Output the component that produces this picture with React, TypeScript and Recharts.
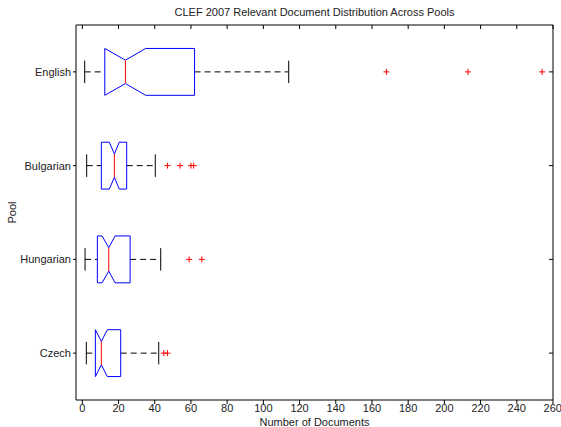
import { ScatterChart, Scatter, XAxis, YAxis } from "recharts";

// pools top to bottom, y position = index + 1
const pools = ["English", "Bulgarian", "Hungarian", "Czech"];
const whiskerLow = [1.3, 2.4, 1.5, 2.2];
const q1 = [12.4, 10.5, 8.3, 7.2];
const notchLow = [12.4, 14.9, 10.9, 7.2];
const median = [23.8, 17.7, 14.6, 10.5];
const notchHigh = [35, 20.4, 18.1, 13.8];
const q3 = [62, 24.5, 26.4, 21.2];
const whiskerHigh = [114, 40.3, 43.3, 42.2];
const outliers = [[168, 213, 254], [47, 54, 60, 61.5], [59, 66], [45, 47]];
const xTicks = [0, 20, 40, 60, 80, 100, 120, 140, 160, 180, 200, 220, 240, 260];
const yTicks = [1, 2, 3, 4];

const HALF_BOX = 0.25;
const HALF_NOTCH = 0.125;
const HALF_CAP = 0.12;

const FONT = "'Liberation Sans', Arial, Helvetica, sans-serif";
const tickStyle = { fill: "#222", fontSize: 11, fontFamily: FONT };

type Pt = { x: number; y: number };

function boxOutline(i: number): Pt[] {
  const y = i + 1;
  return [
    { x: q1[i], y: y - HALF_BOX },
    { x: notchLow[i], y: y - HALF_BOX },
    { x: median[i], y: y - HALF_NOTCH },
    { x: notchHigh[i], y: y - HALF_BOX },
    { x: q3[i], y: y - HALF_BOX },
    { x: q3[i], y: y + HALF_BOX },
    { x: notchHigh[i], y: y + HALF_BOX },
    { x: median[i], y: y + HALF_NOTCH },
    { x: notchLow[i], y: y + HALF_BOX },
    { x: q1[i], y: y + HALF_BOX },
    { x: q1[i], y: y - HALF_BOX },
  ];
}

const NoMark = () => <g />;

const PlusMark = (props: any) => {
  const { cx, cy } = props;
  return (
    <g>
      <line x1={cx - 3} x2={cx + 3} y1={cy} y2={cy} stroke="#ff0000" strokeWidth={1} />
      <line x1={cx} x2={cx} y1={cy - 3} y2={cy + 3} stroke="#ff0000" strokeWidth={1} />
    </g>
  );
};

export default function App() {
  return (
    <div style={{ position: "absolute", left: 0, top: 0, width: 561, height: 427, background: "#fff" }}>
      <div
        style={{
          position: "absolute",
          left: 76,
          width: 477,
          top: 5,
          textAlign: "center",
          fontFamily: FONT,
          fontSize: 11,
          color: "#222",
          lineHeight: "14px",
        }}
      >
        CLEF 2007 Relevant Document Distribution Across Pools
      </div>
      <ScatterChart width={561} height={427} margin={{ top: 25, right: 8, bottom: 0, left: 0 }}>
        <XAxis
          type="number"
          dataKey="x"
          domain={[-3.5, 260]}
          ticks={xTicks}
          allowDataOverflow
          height={27}
          tick={tickStyle}
          tickSize={4}
          tickMargin={0}
          axisLine={{ stroke: "#000" }}
          tickLine={{ stroke: "#000" }}
          label={{ value: "Number of Documents", position: "insideBottom", offset: 1, style: { ...tickStyle } }}
        />
        <XAxis
          xAxisId="top"
          orientation="top"
          type="number"
          dataKey="x"
          domain={[-3.5, 260]}
          ticks={xTicks}
          allowDataOverflow
          mirror
          tickSize={4}
          tickFormatter={() => ""}
          axisLine={{ stroke: "#000" }}
          tickLine={{ stroke: "#000" }}
        />
        <YAxis
          type="number"
          dataKey="y"
          domain={[0.5, 4.5]}
          ticks={yTicks}
          reversed
          allowDataOverflow
          width={76}
          tick={tickStyle}
          tickSize={3}
          tickMargin={2}
          tickFormatter={(v: number) => pools[v - 1] ?? ""}
          axisLine={{ stroke: "#000" }}
          tickLine={{ stroke: "#000" }}
          label={{ value: "Pool", angle: -90, position: "insideLeft", offset: 12, style: { ...tickStyle, textAnchor: "middle" } }}
        />
        <YAxis
          yAxisId="right"
          orientation="right"
          type="number"
          dataKey="y"
          domain={[0.5, 4.5]}
          ticks={yTicks}
          reversed
          allowDataOverflow
          mirror
          tickSize={4}
          tickFormatter={() => ""}
          axisLine={{ stroke: "#000" }}
          tickLine={{ stroke: "#000" }}
        />

        {pools.map((p, i) => (
          <Scatter
            key={`wl-${p}`}
            data={[{ x: whiskerLow[i], y: i + 1 }, { x: q1[i], y: i + 1 }]}
            line={{ stroke: "#000", strokeWidth: 1, strokeDasharray: "6 4" }}
            shape={NoMark}
            isAnimationActive={false}
          />
        ))}
        {pools.map((p, i) => (
          <Scatter
            key={`wh-${p}`}
            data={[{ x: q3[i], y: i + 1 }, { x: whiskerHigh[i], y: i + 1 }]}
            line={{ stroke: "#000", strokeWidth: 1, strokeDasharray: "6 4" }}
            shape={NoMark}
            isAnimationActive={false}
          />
        ))}
        {pools.map((p, i) => (
          <Scatter
            key={`cl-${p}`}
            data={[{ x: whiskerLow[i], y: i + 1 - HALF_CAP }, { x: whiskerLow[i], y: i + 1 + HALF_CAP }]}
            line={{ stroke: "#000", strokeWidth: 1 }}
            shape={NoMark}
            isAnimationActive={false}
          />
        ))}
        {pools.map((p, i) => (
          <Scatter
            key={`ch-${p}`}
            data={[{ x: whiskerHigh[i], y: i + 1 - HALF_CAP }, { x: whiskerHigh[i], y: i + 1 + HALF_CAP }]}
            line={{ stroke: "#000", strokeWidth: 1 }}
            shape={NoMark}
            isAnimationActive={false}
          />
        ))}
        {pools.map((p, i) => (
          <Scatter
            key={`box-${p}`}
            data={boxOutline(i)}
            line={{ stroke: "#0000ff", strokeWidth: 1 }}
            shape={NoMark}
            isAnimationActive={false}
          />
        ))}
        {pools.map((p, i) => (
          <Scatter
            key={`med-${p}`}
            data={[{ x: median[i], y: i + 1 - HALF_NOTCH }, { x: median[i], y: i + 1 + HALF_NOTCH }]}
            line={{ stroke: "#ff0000", strokeWidth: 1 }}
            shape={NoMark}
            isAnimationActive={false}
          />
        ))}
        {pools.map((p, i) => (
          <Scatter
            key={`out-${p}`}
            data={outliers[i].map((v) => ({ x: v, y: i + 1 }))}
            shape={PlusMark}
            isAnimationActive={false}
          />
        ))}
      </ScatterChart>
    </div>
  );
}
